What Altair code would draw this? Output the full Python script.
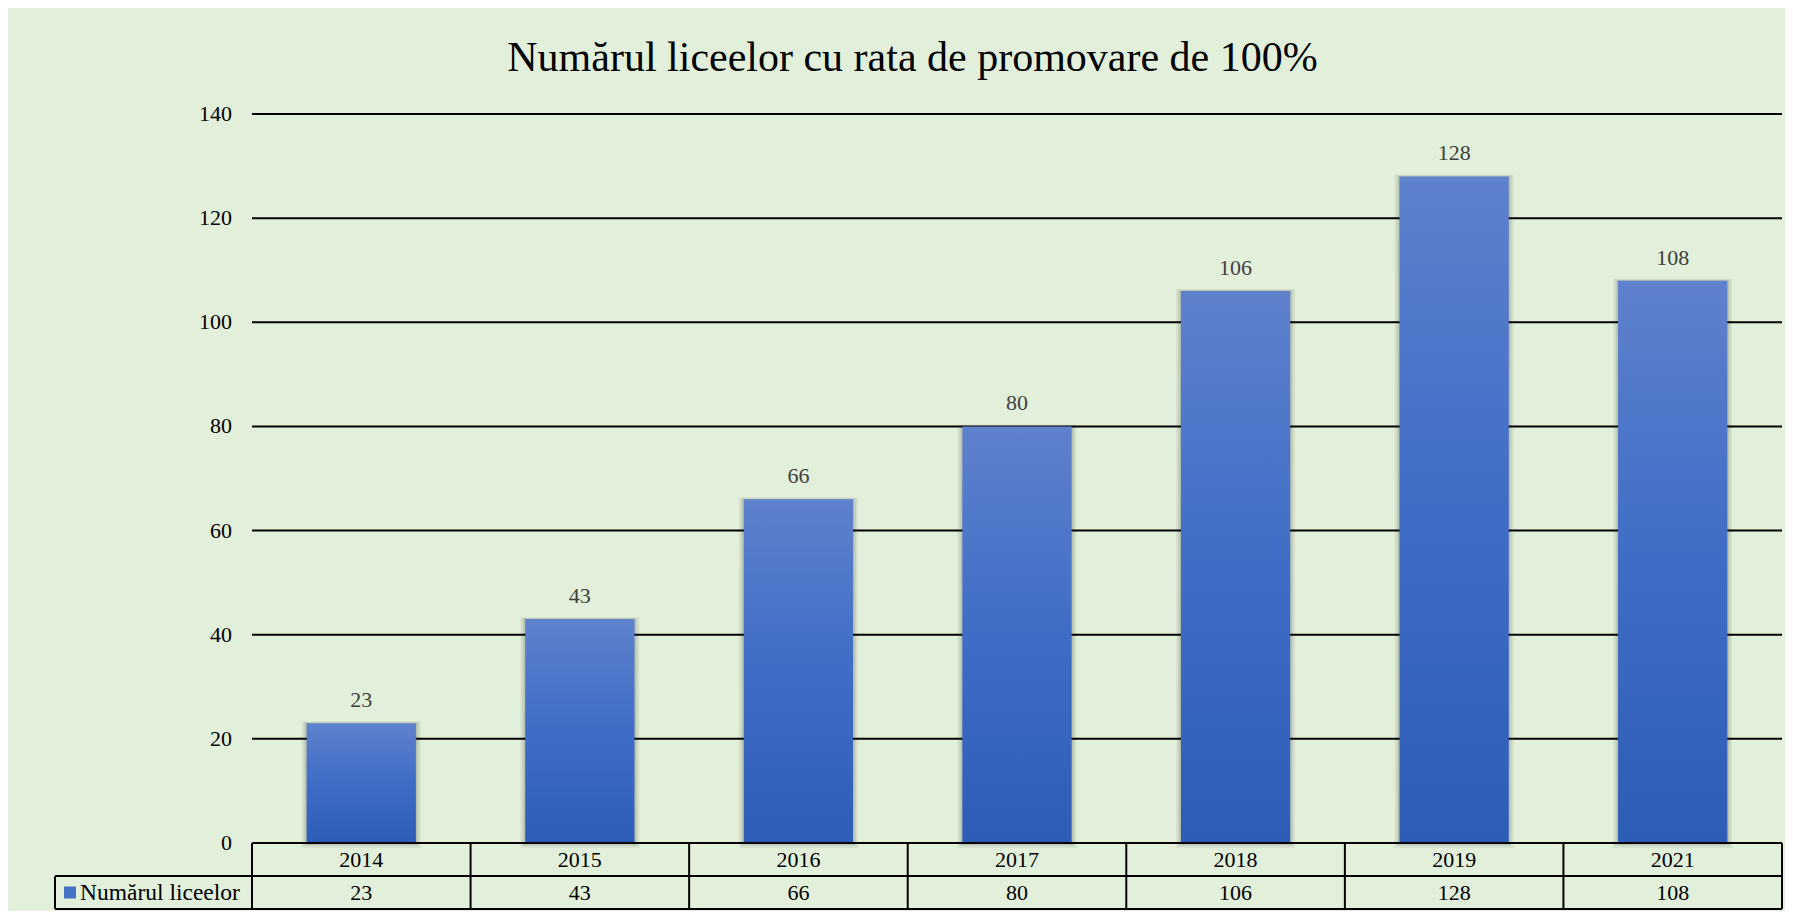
import altair as alt
import pandas as pd

# ---- data ----
years = ["2014", "2015", "2016", "2017", "2018", "2019", "2021"]
values = [23, 43, 66, 80, 106, 128, 108]
y_ticks = [0, 20, 40, 60, 80, 100, 120, 140]
series_name = "Numărul liceelor"
title_text = "Numărul liceelor cu rata de promovare de 100%"

# ---- layout constants (pixels) ----
PLOT_W = 1727          # label cell + 7 columns
PLOT_H = 795           # gridlines + data table
COL_PX = 1530 / 7      # width of one category column
PX_UNIT = 729 / 140    # pixels per y unit
LABEL_W = 197 / COL_PX # width of the legend/label cell in column units
Y_MIN = -(PLOT_H - 729) / PX_UNIT
ROW = -Y_MIN / 2
N = len(years)

FONT = "Liberation Serif"

bars = pd.DataFrame({
    "year": years,
    "value": values,
    "i": list(range(N)),
})
bars["x0"] = bars["i"] + 0.25
bars["x1"] = bars["i"] + 0.75
bars["xc"] = bars["i"] + 0.5
bars["row1"] = -ROW / 2
bars["row2"] = -1.5 * ROW
bars["label"] = [str(v) for v in values]

xs = alt.Scale(domain=[-LABEL_W, N], nice=False, zero=False)
ys = alt.Scale(domain=[Y_MIN, 140], nice=False, zero=False)

def X(field):
    return alt.X(field, type="quantitative", scale=xs, axis=None)

def Y(field):
    return alt.Y(field, type="quantitative", scale=ys, axis=None)

base = alt.Chart(bars)

# shadows
sh_layers = []
for spread, op in [(5, 0.05), (3, 0.07), (1.5, 0.08)]:
    d = spread / COL_PX
    sh = base.transform_calculate(
        sx0=f"datum.x0 - {d}", sx1=f"datum.x1 + {d}",
        sy=f"datum.value + {spread * 0.4 / PX_UNIT}", sy0=f"{-spread / PX_UNIT}"
    ).mark_rect(color="black", opacity=op).encode(
        x=X("sx0:Q"), x2="sx1:Q", y=Y("sy:Q"), y2="sy0:Q"
    )
    sh_layers.append(sh)

grad = alt.Gradient(
    gradient="linear",
    stops=[alt.GradientStop(color="#5E82CC", offset=0),
           alt.GradientStop(color="#3F6CC6", offset=0.5),
           alt.GradientStop(color="#2D5DB7", offset=1)],
    x1=0, x2=0, y1=0, y2=1,
)

bar_layer = base.mark_rect(color=grad).encode(
    x=X("x0:Q"), x2="x1:Q", y=Y("value:Q"), y2=alt.Y2(datum=0)
)

value_labels = base.mark_text(
    font=FONT, fontSize=22, color="#404040", baseline="alphabetic", dy=-16
).encode(x=X("xc:Q"), y=Y("value:Q"), text="label:N")

# gridlines
grid_df = pd.DataFrame({"t": y_ticks})
grid_df["x0"] = 0
grid_df["x1"] = N
grid_df["lab"] = [str(t) for t in y_ticks]
grid = alt.Chart(grid_df[grid_df["t"] > 0]).mark_rule(color="black", strokeWidth=2).encode(
    x=X("x0:Q"), x2="x1:Q", y=Y("t:Q")
)
ylabels = alt.Chart(grid_df).mark_text(
    font=FONT, fontSize=22, color="black", align="right", baseline="middle", dx=-20
).encode(x=X("x0:Q"), y=Y("t:Q"), text="lab:N")

# data table lines
h_df = pd.DataFrame({
    "y": [0, -ROW, -2 * ROW],
    "x0": [0, -LABEL_W, -LABEL_W],
    "x1": [N, N, N],
})
hlines = alt.Chart(h_df).mark_rule(color="black", strokeWidth=2).encode(
    x=X("x0:Q"), x2="x1:Q", y=Y("y:Q")
)
v_df = pd.DataFrame({
    "x": [-LABEL_W] + list(range(N + 1)),
    "y0": [-ROW] + [0] * (N + 1),
    "y1": [-2 * ROW] * (N + 2),
})
vlines = alt.Chart(v_df).mark_rule(color="black", strokeWidth=2).encode(
    x=X("x:Q"), y=Y("y0:Q"), y2="y1:Q"
)

year_text = base.mark_text(font=FONT, fontSize=22, color="black", baseline="middle").encode(
    x=X("xc:Q"), y=Y("row1:Q"), text="year:N"
)
val_text = base.mark_text(font=FONT, fontSize=22, color="black", baseline="middle").encode(
    x=X("xc:Q"), y=Y("row2:Q"), text="label:N"
)

leg_df = pd.DataFrame({"x": [-LABEL_W], "y": [-1.5 * ROW], "name": [series_name]})
leg_square = alt.Chart(leg_df).mark_point(
    shape="square", filled=True, size=144, color="#4472C4", opacity=1, xOffset=15
).encode(x=X("x:Q"), y=Y("y:Q"))
leg_text = alt.Chart(leg_df).mark_text(
    font=FONT, fontSize=23.5, color="black", align="left", baseline="middle", dx=25
).encode(x=X("x:Q"), y=Y("y:Q"), text="name:N")

chart = alt.layer(
    grid, *sh_layers, bar_layer, value_labels, ylabels,
    hlines, vlines, year_text, val_text, leg_square, leg_text
).properties(
    width=PLOT_W,
    height=PLOT_H,
    title=alt.Title(
        title_text, font=FONT, fontSize=42, fontWeight="normal", color="black",
        anchor="middle", baseline="alphabetic", offset=-10, dx=-6
    ),
    autosize=alt.AutoSizeParams(type="none"),
    padding={"left": 47, "top": 106, "right": 3, "bottom": 2},
    background="#E2EFDA",
).configure_view(stroke=None)

chart.save("out.html", embed_options={"renderer": "svg", "actions": False})
